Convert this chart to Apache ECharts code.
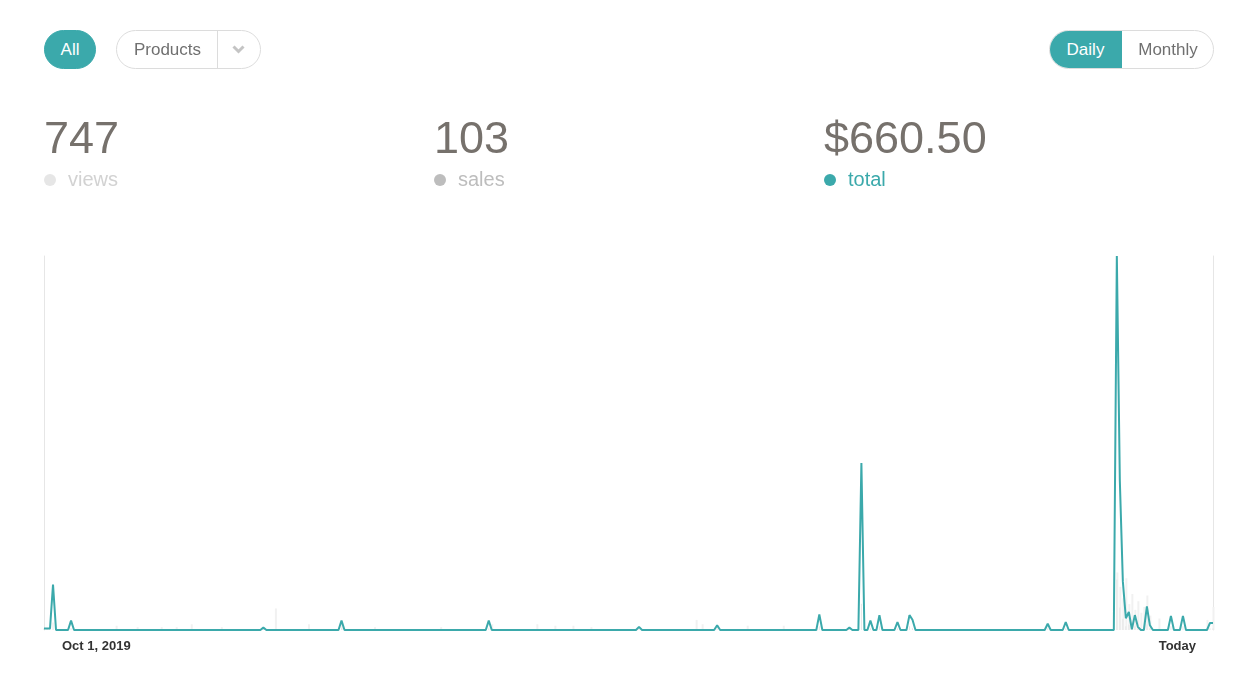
<!DOCTYPE html>
<html>
<head>
<meta charset="utf-8">
<title>Sales</title>
<script src="https://cdn.jsdelivr.net/npm/echarts@6/dist/echarts.min.js"></script>
<style>
  html, body { margin: 0; padding: 0; background: #fff; }
  body { width: 1254px; height: 674px; position: relative; overflow: hidden;
         font-family: "Liberation Sans", Arial, sans-serif; }
  #chart { position: absolute; left: 0; top: 0; width: 1254px; height: 674px; }
  .btn { position: absolute; box-sizing: border-box; height: 39px; line-height: 37px;
         font-size: 17px; text-align: center; }
  .pill-all { left: 44px; top: 30px; width: 52px; background: #3ba9ab; color: #fff;
              border: 1px solid #3ba9ab; border-radius: 20px; }
  .products { left: 116px; top: 30px; width: 145px; border: 1px solid #dcdcdc;
              border-radius: 20px; color: #707070; text-align: left; }
  .products .lbl { position: absolute; left: 0; width: 101px; text-align: center; }
  .products .sep { position: absolute; left: 100px; top: 0; width: 1px; height: 37px; background: #dcdcdc; }
  .products .chev { position: absolute; left: 115px; top: 14px; width: 13px; height: 9px; }
  .seg { left: 1049px; top: 30px; width: 165px; border: 1px solid #dcdcdc; border-radius: 20px;
         overflow: hidden; }
  .seg .daily { position: absolute; left: -1px; top: -1px; width: 73px; height: 39px; line-height: 39px;
                background: #3ba9ab; color: #fff; }
  .seg .monthly { position: absolute; left: 72px; top: 0; width: 92px; color: #707070; }
  .stat { position: absolute; top: 115px; }
  .stat .num { font-size: 45px; line-height: 45px; color: #76716c; }
  .stat .key { position: absolute; top: 54px; left: 0; font-size: 20px; line-height: 20px; white-space: nowrap; }
  .stat .dot { position: absolute; left: 0; top: 5px; width: 12px; height: 12px; border-radius: 6px; }
  .stat .txt { position: absolute; left: 24px; top: 0; }
</style>
</head>
<body>
<div id="chart"></div>

<div class="btn pill-all">All</div>
<div class="btn products">
  <span class="lbl">Products</span>
  <span class="sep"></span>
  <svg class="chev" viewBox="0 0 13 9"><polyline points="1.5,1.5 6.5,6.5 11.5,1.5" fill="none" stroke="#c4c4c4" stroke-width="3"/></svg>
</div>
<div class="btn seg">
  <span class="daily">Daily</span>
  <span class="monthly">Monthly</span>
</div>

<div class="stat" style="left:44px">
  <div class="num">747</div>
  <div class="key"><span class="dot" style="background:#e6e6e6"></span><span class="txt" style="color:#d2d2d2">views</span></div>
</div>
<div class="stat" style="left:434px">
  <div class="num">103</div>
  <div class="key"><span class="dot" style="background:#bdbdbd"></span><span class="txt" style="color:#bdbdbd">sales</span></div>
</div>
<div class="stat" style="left:824px">
  <div class="num">$660.50</div>
  <div class="key"><span class="dot" style="background:#3ba9ab"></span><span class="txt" style="color:#3ba9ab">total</span></div>
</div>

<script>
// daily data, Oct 1 2019 .. today (390 days); days not listed are 0
var dayCount = 390;
var tickLabels = ['Oct 1, 2019', 'Today'];

// total ($) per day: [dayIndex, amount]
var totalDays = [
  [0, 1], [1, 1], [2, 1], [3, 29], [9, 6], [73, 1.5], [99, 6], [148, 6],
  [198, 2], [224, 3], [258, 10], [268, 1.5], [272, 106.5], [275, 6], [278, 9.5],
  [284, 5], [288, 9.5], [289, 6.5], [334, 4], [340, 5],
  [357, 238.5], [358, 95], [359, 31], [360, 7.5], [361, 11.5], [362, 0.5],
  [363, 9.5], [364, 2], [367, 15], [368, 3], [375, 9], [379, 9], [388, 4.5], [389, 4.5]
];

// views per day (faint bars)
var viewDays = [
  [24, 3], [31, 2], [39, 2], [44, 2], [49, 4], [59, 2], [77, 15], [88, 4], [99, 4],
  [110, 2], [132, 2], [149, 4], [164, 4], [170, 3], [176, 3], [182, 2], [217, 7],
  [219, 4], [234, 3], [246, 3], [357, 40], [358, 30], [359, 22], [360, 36], [361, 18],
  [362, 25], [363, 14], [364, 20], [365, 12], [366, 16], [367, 24], [368, 10],
  [371, 8], [387, 7], [389, 16]
];

// sales per day
var saleDays = [
  [0, 1], [1, 1], [2, 1], [3, 4], [9, 1], [73, 1], [99, 1], [148, 1], [198, 1], [224, 1],
  [258, 2], [268, 1], [272, 14], [275, 1], [278, 2], [284, 1], [288, 2], [289, 1],
  [334, 1], [340, 1], [357, 27], [358, 12], [359, 6], [360, 2], [361, 3], [362, 1],
  [363, 2], [364, 1], [367, 3], [368, 1], [375, 2], [379, 2], [388, 1], [389, 1]
];

function fillDays(pairs) {
  var arr = [];
  for (var i = 0; i < dayCount; i++) arr.push(0);
  pairs.forEach(function (p) { arr[p[0]] = p[1]; });
  return arr;
}

var categories = [];
for (var i = 0; i < dayCount; i++) categories.push('d' + i);

var teal = '#3ba9ab';
var chart = echarts.init(document.getElementById('chart'));

var option = {
  animation: false,
  grid: { left: 44, right: 41, top: 256, bottom: 44 },
  xAxis: {
    type: 'category',
    data: categories,
    boundaryGap: false,
    axisLine: { show: false },
    axisTick: { show: false },
    axisLabel: {
      interval: function (idx) { return idx === 0 || idx === dayCount - 1; },
      showMinLabel: true,
      showMaxLabel: true,
      alignMinLabel: 'left',
      alignMaxLabel: 'right',
      margin: 10,
      formatter: function (val, idx) {
        if (idx === 0) return '{l|' + tickLabels[0] + '}';
        return '{r|' + tickLabels[1] + '}';
      },
      rich: {
        l: { padding: [0, 0, 0, 18], fontSize: 13, fontWeight: 'bold', color: '#333',
             fontFamily: 'Liberation Sans' },
        r: { padding: [0, 17, 0, 0], fontSize: 13, fontWeight: 'bold', color: '#333',
             fontFamily: 'Liberation Sans' }
      }
    }
  },
  yAxis: [
    {
      type: 'value', min: 0, max: 'dataMax', position: 'left',
      axisLine: { show: true, lineStyle: { color: '#e6e6e6', width: 1 } },
      axisTick: { show: false }, axisLabel: { show: false }, splitLine: { show: false }
    },
    {
      type: 'value', min: 0, max: 260, position: 'right',
      axisLine: { show: true, lineStyle: { color: '#e6e6e6', width: 1 } },
      axisTick: { show: false }, axisLabel: { show: false }, splitLine: { show: false }
    },
    {
      type: 'value', min: 0, max: 200, show: false
    }
  ],
  series: [
    {
      name: 'views',
      type: 'bar',
      yAxisIndex: 1,
      barWidth: 2,
      barGap: '-100%',
      itemStyle: { color: '#f1f1f1' },
      data: fillDays(viewDays),
      z: 1
    },
    {
      name: 'sales',
      type: 'bar',
      yAxisIndex: 2,
      barWidth: 1,
      itemStyle: { color: '#e6e6e6' },
      data: fillDays(saleDays),
      z: 2
    },
    {
      name: 'total',
      type: 'line',
      yAxisIndex: 0,
      showSymbol: false,
      smooth: false,
      lineStyle: { color: teal, width: 2 },
      itemStyle: { color: teal },
      data: fillDays(totalDays),
      z: 5
    }
  ]
};

chart.setOption(option);
</script>
</body>
</html>
